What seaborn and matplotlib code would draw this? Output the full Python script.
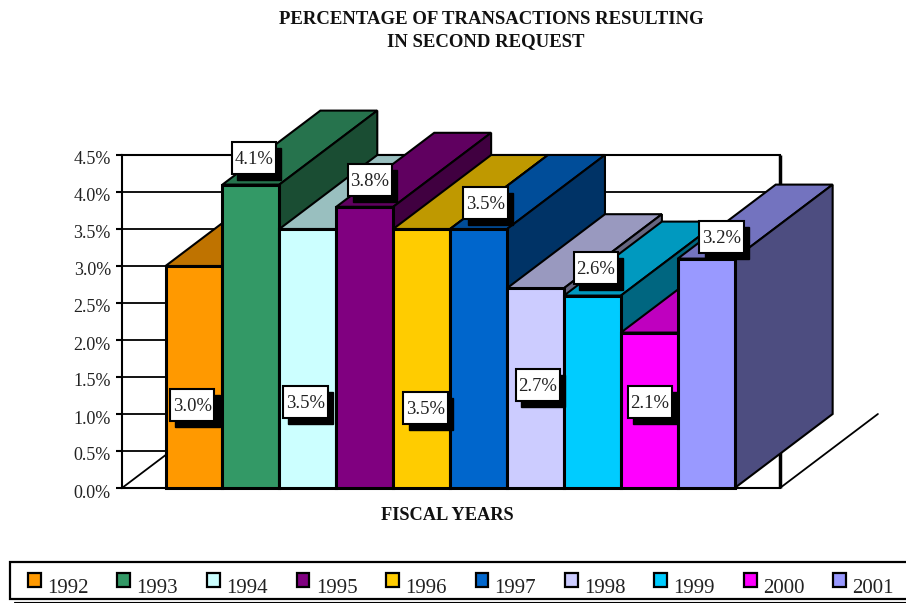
import matplotlib
matplotlib.use('Agg')
import matplotlib.pyplot as plt
import seaborn as sns
from matplotlib.patches import Polygon, Rectangle, Patch
from matplotlib.colors import to_rgb
from matplotlib.ticker import FuncFormatter
from matplotlib.transforms import ScaledTranslation

years = ['1992', '1993', '1994', '1995', '1996', '1997', '1998', '1999', '2000', '2001']
values = [3.0, 4.1, 3.5, 3.8, 3.5, 3.5, 2.7, 2.6, 2.1, 3.1]
value_labels = ['3.0%', '4.1%', '3.5%', '3.8%', '3.5%', '3.5%', '2.7%', '2.6%', '2.1%', '3.2%']
colors = ['#FF9900', '#339966', '#CCFFFF', '#800080', '#FFCC00',
          '#0066CC', '#CCCCFF', '#00CCFF', '#FF00FF', '#9999FF']

# where the callouts sit, in bar index / percent units
label_x = [-0.03, 1.05, 1.96, 3.09, 4.07, 5.12, 6.04, 7.06, 8.01, 9.27]
label_y = [1.12, 4.46, 1.16, 4.16, 1.08, 3.85, 1.39, 2.97, 1.16, 3.39]

# 3d look
depth_x = 1.72
depth_y = 1.0
box_w = 0.78
box_h = 0.43
shadow_dx = 0.09
shadow_dy = 0.08


def shade(color, k):
    return tuple(c * k for c in to_rgb(color))


sns.set_theme(style='white')
plt.rcParams['font.family'] = ['Liberation Serif', 'DejaVu Serif']

fig = plt.figure(figsize=(9.06, 6.03), dpi=100)
ax = fig.add_axes([122 / 906, 115 / 603, 658 / 906, 333 / 603])

sns.barplot(x=years, y=values, hue=years, palette=colors, width=1, dodge=False,
            legend=False, saturation=1, edgecolor='black', linewidth=2.2, ax=ax)

ax.set_ylim(0, 4.5)
ax.set_xlim(-1.265, 10.295)
ax.set_yticks([i * 0.5 for i in range(10)])
ax.yaxis.set_major_formatter(FuncFormatter(lambda v, p: f'{v:.1f}%'))
ax.set_xticks([])
ax.set_xlabel('')
ax.set_ylabel('')
ax.tick_params(axis='y', left=True, length=4.5, width=1.5, color='black', pad=3.5,
               labelsize=13, labelcolor='#222222')
# labels sit a little under their ticks
for lab in ax.get_yticklabels():
    lab.set_transform(lab.get_transform() + ScaledTranslation(0, -3 / 100, fig.dpi_scale_trans))
ax.grid(axis='y', color='black', linewidth=1.3, zorder=1)
ax.set_axisbelow(True)
for s in ['left', 'top', 'bottom']:
    ax.spines[s].set_linewidth(1.5)
    ax.spines[s].set_color('black')
ax.spines['right'].set_linewidth(2.5)
ax.spines['right'].set_color('black')
ax.spines['right'].set_capstyle('butt')

# floor edges
x0, x1 = ax.get_xlim()
ax.plot([x0, x0 + depth_x], [0, depth_y], color='black', lw=1.3, zorder=1.5, clip_on=False)
ax.plot([x1, x1 + depth_x], [0, depth_y], color='black', lw=1.3, zorder=1.5, clip_on=False)

# bars get drawn left to right, each over the one before
for i, (bar, col) in enumerate(zip(ax.patches, colors)):
    left = bar.get_x()
    right = left + bar.get_width()
    h = bar.get_height()
    z = 3 + i
    top = [(left, h), (right, h), (right + depth_x, h + depth_y), (left + depth_x, h + depth_y)]
    side = [(right, 0), (right + depth_x, depth_y), (right + depth_x, h + depth_y), (right, h)]
    ax.add_patch(Polygon(top, closed=True, facecolor=shade(col, 0.75), edgecolor='black',
                         linewidth=1.5, clip_on=False, zorder=z))
    ax.add_patch(Polygon(side, closed=True, facecolor=shade(col, 0.5), edgecolor='black',
                         linewidth=1.5, clip_on=False, zorder=z + 0.1))
    bar.set_zorder(z + 0.2)
    bar.set_clip_on(False)

# value callouts with a hard shadow
for x, y, txt in zip(label_x, label_y, value_labels):
    ax.add_patch(Rectangle((x - box_w / 2 + shadow_dx, y - box_h / 2 - shadow_dy), box_w, box_h,
                           facecolor='black', edgecolor='black', clip_on=False, zorder=30))
    ax.add_patch(Rectangle((x - box_w / 2, y - box_h / 2), box_w, box_h,
                           facecolor='white', edgecolor='black', linewidth=1.5,
                           clip_on=False, zorder=31))
    ax.text(x, y - 0.02, txt, ha='center', va='center', fontsize=13.4, color='#222222',
            zorder=32, clip_on=False)

fig.text(491 / 906, 1 - 19.5 / 603, 'PERCENTAGE OF TRANSACTIONS RESULTING', ha='center', va='center',
         fontsize=13.5, fontweight='bold', color='#111111')
fig.text(486 / 906, 1 - 41.5 / 603, 'IN SECOND REQUEST', ha='center', va='center',
         fontsize=13.5, fontweight='bold', color='#111111')
fig.text(447 / 906, 1 - 515.5 / 603, 'FISCAL YEARS', ha='center', va='center',
         fontsize=13.2, fontweight='bold', color='#111111')

# legend box runs off the right edge
fig.add_artist(Rectangle((10 / 906, 4 / 603), 920 / 906, 37 / 603, transform=fig.transFigure,
                         facecolor='white', edgecolor='black', linewidth=1.6))
fig.add_artist(plt.Line2D([14 / 906, 1], [1 / 603, 1 / 603], color='black', linewidth=0.8))

handles = [Patch(facecolor=c, edgecolor='black', linewidth=1.6) for c in colors]
leg = fig.legend(handles, years, ncol=10, loc='center left', mode='expand',
                 bbox_to_anchor=(28 / 906, 5 / 603, 866 / 906, 20 / 603), borderaxespad=0,
                 borderpad=0, frameon=False, fontsize=15, handlelength=0.62, handleheight=0.62,
                 handletextpad=0.3, labelcolor='#222222')
leg.set_zorder(20)
for h in leg.legend_handles:
    h.set_y(h.get_y() + 3.6)

fig.savefig('out.png', dpi=100)
